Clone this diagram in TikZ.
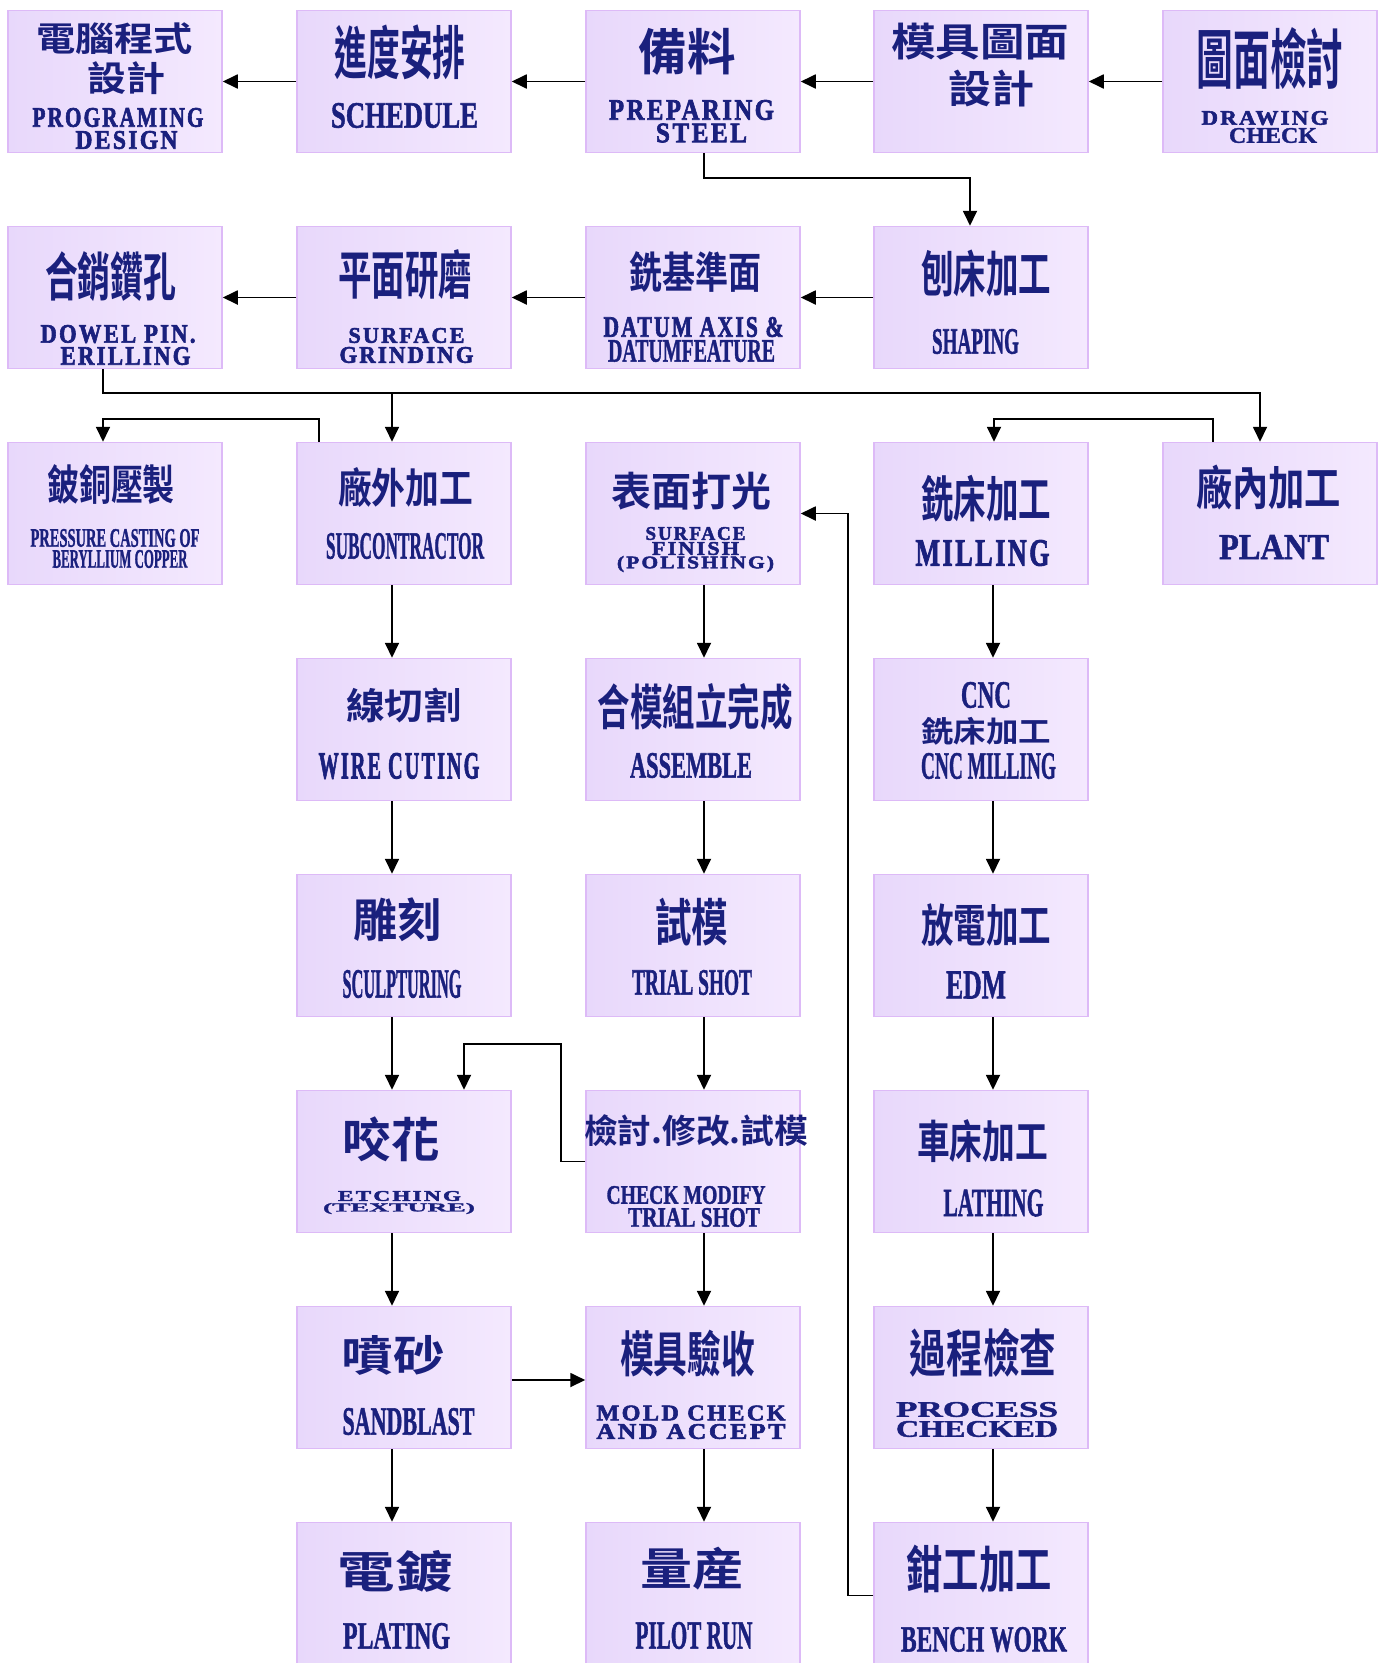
\documentclass[tikz,border=0pt]{standalone}
\usepackage{fontspec}
\usepackage{graphicx}
\usetikzlibrary{arrows.meta}
\newfontfamily\zh{Noto Sans CJK TC}[UprightFont=* Bold]
\newfontfamily\en{Liberation Serif}[UprightFont=* Bold, FakeBold=1.5]
\newfontfamily\enm{Liberation Serif}[UprightFont=* Bold, FakeBold=2.5, LetterSpace=10]
\definecolor{ink}{RGB}{26,32,125}
\definecolor{boxl}{RGB}{232,216,251}
\definecolor{boxr}{RGB}{244,233,254}
\definecolor{boxline}{RGB}{221,186,247}
\newcommand{\sized}[3]{\resizebox*{#1pt}{#2pt}{#3}}
\tikzset{
  box/.style={draw=boxline, line width=1.5pt, left color=boxl, right color=boxr,
    minimum width=214pt, minimum height=142pt, inner sep=0pt},
  txt/.style={inner sep=0pt, text=ink},
  arr/.style={line width=1.8pt, -{Triangle[length=15pt,width=14pt]}}
}
\begin{document}
\begin{tikzpicture}[x=1pt, y=-1pt]
  \useasboundingbox (0,0) rectangle (1383,1663);
  % row 1
  \node[box] (dcs) at (115,81.5) {};
  \node[box] (sch) at (404,81.5) {};
  \node[box] (prep) at (693,81.5) {};
  \node[box] (mdes) at (981,81.5) {};
  \node[box] (dchk) at (1270,81.5) {};
  \node[txt] (dcs-a) at (114.5,39) {\sized{157}{32}{\zh 電腦程式}};
  \node[txt] (dcs-b) at (126,78.5) {\sized{78}{33}{\zh 設計}};
  \node[txt] (dcs-c) at (118,117.5) {\sized{171}{19}{\enm PROGRAMING}};
  \node[txt] (dcs-d) at (126.5,140) {\sized{102}{18}{\enm DESIGN}};
  \node[txt] (sch-a) at (400,52) {\sized{131}{55}{\zh 進度安排}};
  \node[txt] (sch-b) at (404.5,115.5) {\sized{147}{25}{\en SCHEDULE}};
  \node[txt] (prep-a) at (687,52) {\sized{97}{47}{\zh 備料}};
  \node[txt] (prep-b) at (691.5,110) {\sized{165}{20}{\enm PREPARING}};
  \node[txt] (prep-c) at (701.5,133) {\sized{91}{19}{\enm STEEL}};
  \node[txt] (mdes-a) at (980,41.5) {\sized{178}{37}{\zh 模具圖面}};
  \node[txt] (mdes-b) at (991,88.5) {\sized{86}{37}{\zh 設計}};
  \node[txt] (dchk-a) at (1270,59) {\sized{147}{62}{\zh 圖面檢討}};
  \node[txt] (dchk-b) at (1265,118) {\sized{127}{14}{\enm DRAWING}};
  \node[txt] (dchk-c) at (1273,135.5) {\sized{88}{15}{\en CHECK}};
  % row 2
  \node[box] (dowel) at (115,297.5) {};
  \node[box] (grind) at (404,297.5) {};
  \node[box] (datum) at (693,297.5) {};
  \node[box] (shape) at (981,297.5) {};
  \node[txt] (dowel-a) at (110.5,277) {\sized{131}{50}{\zh 合銷鑽孔}};
  \node[txt] (dowel-b) at (118,334) {\sized{155}{18}{\enm DOWEL PIN.}};
  \node[txt] (dowel-c) at (125.5,356) {\sized{130}{18}{\enm ERILLING}};
  \node[txt] (grind-a) at (405,275) {\sized{134}{50}{\zh 平面研磨}};
  \node[txt] (grind-b) at (406.5,335.5) {\sized{116}{15}{\enm SURFACE}};
  \node[txt] (grind-c) at (406.5,355) {\sized{134}{16}{\enm GRINDING}};
  \node[txt] (datum-a) at (695,272.5) {\sized{132}{41}{\zh 銑基準面}};
  \node[txt] (datum-b) at (693.5,327) {\sized{180}{20}{\enm DATUM AXIS \&}};
  \node[txt] (datum-c) at (691.5,351) {\sized{167}{22}{\en DATUMFEATURE}};
  \node[txt] (shape-a) at (986,273.5) {\sized{130}{47}{\zh 刨床加工}};
  \node[txt] (shape-b) at (975.5,341.5) {\sized{87}{25}{\en SHAPING}};
  % row 3
  \node[box] (cast) at (115,513.5) {};
  \node[box] (subc) at (404,513.5) {};
  \node[box] (polish) at (693,513.5) {};
  \node[box] (mill) at (981,513.5) {};
  \node[box] (plant) at (1270,513.5) {};
  \node[txt] (cast-a) at (111,485) {\sized{128}{40}{\zh 鈹銅壓製}};
  \node[txt] (cast-b) at (115,538) {\sized{169}{18}{\en PRESSURE CASTING OF}};
  \node[txt] (cast-c) at (120,559) {\sized{135}{18}{\en BERYLLIUM COPPER}};
  \node[txt] (subc-a) at (405.5,487) {\sized{135}{40}{\zh 廠外加工}};
  \node[txt] (subc-b) at (405,546) {\sized{158}{26}{\en SUBCONTRACTOR}};
  \node[txt] (polish-a) at (691.5,491) {\sized{160}{38}{\zh 表面打光}};
  \node[txt] (polish-b) at (695.5,533.5) {\sized{100}{13}{\enm SURFACE}};
  \node[txt] (polish-c) at (695.5,548.5) {\sized{87}{13}{\enm FINISH}};
  \node[txt] (polish-d) at (695.5,564) {\sized{157}{16}{\enm (POLISHING)}};
  \node[txt] (mill-a) at (986,498.5) {\sized{130}{47}{\zh 銑床加工}};
  \node[txt] (mill-b) at (982.5,553) {\sized{134}{26}{\enm MILLING}};
  \node[txt] (plant-a) at (1268.5,487.5) {\sized{145}{45}{\zh 廠內加工}};
  \node[txt] (plant-b) at (1274,547) {\sized{110}{24}{\en PLANT}};
  % row 4
  \node[box] (wire) at (404,729.5) {};
  \node[box] (assem) at (693,729.5) {};
  \node[box] (cnc) at (981,729.5) {};
  \node[txt] (wire-a) at (404,705.5) {\sized{116}{35}{\zh 線切割}};
  \node[txt] (wire-b) at (399,766) {\sized{161}{26}{\enm WIRE CUTING}};
  \node[txt] (assem-a) at (695,706.5) {\sized{195}{47}{\zh 合模組立完成}};
  \node[txt] (assem-b) at (691,765.5) {\sized{122}{25}{\en ASSEMBLE}};
  \node[txt] (cnc-a) at (986,695) {\sized{50}{26}{\en CNC}};
  \node[txt] (cnc-b) at (986,731) {\sized{130}{28}{\zh 銑床加工}};
  \node[txt] (cnc-c) at (988.5,766) {\sized{135}{26}{\en CNC MILLING}};
  % row 5
  \node[box] (sculpt) at (404,945.5) {};
  \node[box] (trial) at (693,945.5) {};
  \node[box] (edm) at (981,945.5) {};
  \node[txt] (sculpt-a) at (397,920) {\sized{88}{44}{\zh 雕刻}};
  \node[txt] (sculpt-b) at (402,984) {\sized{119}{28}{\en SCULPTURING}};
  \node[txt] (trial-a) at (691.5,922) {\sized{73}{48}{\zh 試模}};
  \node[txt] (trial-b) at (692,982.5) {\sized{120}{25}{\en TRIAL SHOT}};
  \node[txt] (edm-a) at (986,925.5) {\sized{130}{43}{\zh 放電加工}};
  \node[txt] (edm-b) at (976,985) {\sized{60}{27}{\en EDM}};
  % row 6
  \node[box] (etch) at (404,1161.5) {};
  \node[box] (modify) at (693,1161.5) {};
  \node[box] (lathe) at (981,1161.5) {};
  \node[txt] (etch-a) at (391,1139.5) {\sized{97}{45}{\zh 咬花}};
  \node[txt] (etch-b) at (399.5,1196) {\sized{123}{10}{\enm ETCHING}};
  \node[txt] (etch-c) at (399,1208.5) {\sized{152}{11}{\en (TEXTURE)}};
  \node[txt] (modify-a) at (696,1131) {\sized{224}{32}{\zh 檢討.修改.試模}};
  \node[txt] (modify-b) at (686,1195) {\sized{159}{18}{\en CHECK MODIFY}};
  \node[txt] (modify-c) at (694,1217.5) {\sized{132}{19}{\en TRIAL SHOT}};
  \node[txt] (lathe-a) at (982.5,1141.5) {\sized{131}{43}{\zh 車床加工}};
  \node[txt] (lathe-b) at (993.5,1203) {\sized{100}{27}{\en LATHING}};
  % row 7
  \node[box] (sand) at (404,1377.5) {};
  \node[box] (accept) at (693,1377.5) {};
  \node[box] (pcheck) at (981,1377.5) {};
  \node[txt] (sand-a) at (393,1355) {\sized{103}{40}{\zh 噴砂}};
  \node[txt] (sand-b) at (408.5,1421.5) {\sized{132}{27}{\en SANDBLAST}};
  \node[txt] (accept-a) at (687.5,1353.5) {\sized{135}{47}{\zh 模具驗收}};
  \node[txt] (accept-b) at (691,1413) {\sized{189}{15}{\enm MOLD CHECK}};
  \node[txt] (accept-c) at (691,1431.5) {\sized{189}{15}{\enm AND ACCEPT}};
  \node[txt] (pcheck-a) at (983,1352.5) {\sized{147}{49}{\zh 過程檢查}};
  \node[txt] (pcheck-b) at (977,1409.5) {\sized{162}{15}{\en PROCESS}};
  \node[txt] (pcheck-c) at (977,1429) {\sized{162}{16}{\en CHECKED}};
  % row 8
  \node[box] (plate) at (404,1593.5) {};
  \node[box] (pilot) at (693,1593.5) {};
  \node[box] (bench) at (981,1593.5) {};
  \node[txt] (plate-a) at (395,1571) {\sized{115}{42}{\zh 電鍍}};
  \node[txt] (plate-b) at (396.5,1636) {\sized{107}{26}{\en PLATING}};
  \node[txt] (pilot-a) at (692,1568.5) {\sized{104}{43}{\zh 量産}};
  \node[txt] (pilot-b) at (694,1635.5) {\sized{117}{27}{\en PILOT RUN}};
  \node[txt] (bench-a) at (979,1569) {\sized{145}{48}{\zh 鉗工加工}};
  \node[txt] (bench-b) at (984,1639.5) {\sized{166}{25}{\en BENCH WORK}};
  % connectors
  \draw[arr] (dchk) -- (mdes);
  \draw[arr] (mdes) -- (prep);
  \draw[arr] (prep) -- (sch);
  \draw[arr] (sch) -- (dcs);
  \draw[arr] ([xshift=11pt]prep.south) -- ++(0,24.5) -| ([xshift=-11pt]shape.north);
  \draw[arr] (shape) -- (datum);
  \draw[arr] (datum) -- (grind);
  \draw[arr] (grind) -- (dowel);
  \draw[arr] ([xshift=-12pt]dowel.south) -- ++(0,24) -| ([xshift=-10pt]plant.north);
  \draw[arr] ([xshift=-12pt]subc.north) ++(0,-47.5) -- ([xshift=-12pt]subc.north);
  \draw[arr] ([xshift=-85pt]subc.north) -- ++(0,-23) -| ([xshift=-12pt]cast.north);
  \draw[arr] ([xshift=-57pt]plant.north) -- ++(0,-23) -| ([xshift=13pt]mill.north);
  \foreach \a/\b/\s in {subc/wire/-12, wire/sculpt/-12, sculpt/etch/-12, etch/sand/-12, sand/plate/-12,
      polish/assem/11, assem/trial/11, trial/modify/11, modify/accept/11, accept/pilot/11,
      mill/cnc/12, cnc/edm/12, edm/lathe/12, lathe/pcheck/12, pcheck/bench/12}
    \draw[arr] ([xshift=\s pt]\a.south) -- ([xshift=\s pt]\b.north);
  \draw[arr] ([yshift=-2.5pt]sand.east) -- ([yshift=-2.5pt]accept.west);
  \draw[arr] (modify.west) -- ++(-24,0) -- ++(0,-117.5) -| ([xshift=60pt]etch.north);
  \draw[arr] ([yshift=-2pt]bench.west) -- ++(-25,0) |- (polish.east);
\end{tikzpicture}
\end{document}
